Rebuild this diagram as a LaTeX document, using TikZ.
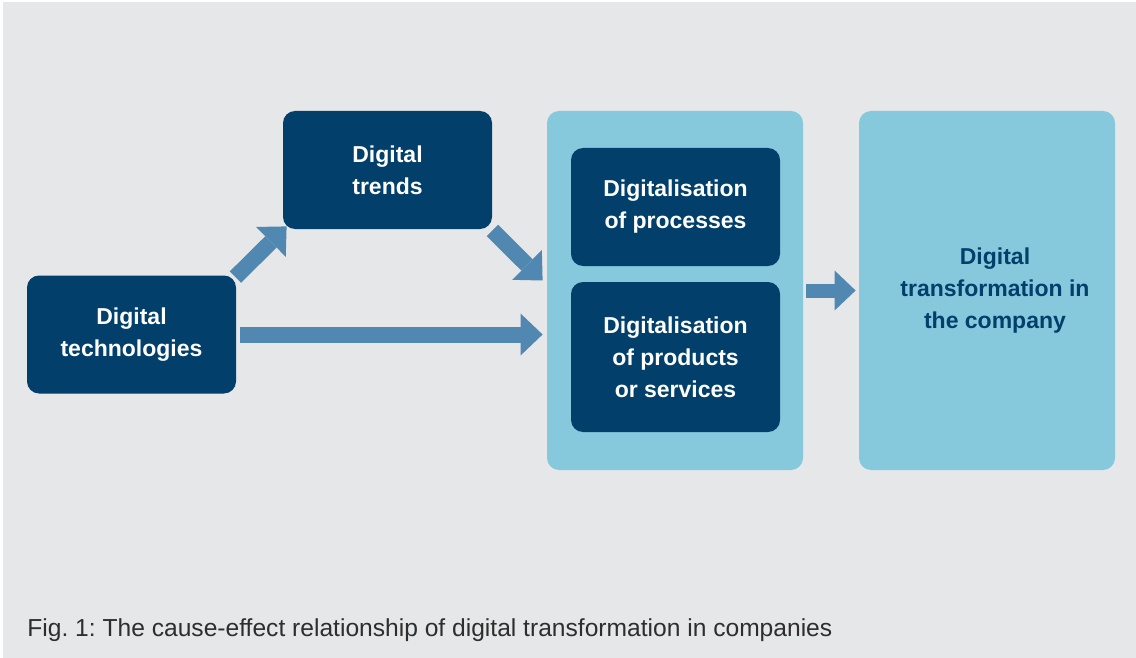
\documentclass[tikz,border=0pt]{standalone}
\usepackage{fontspec}
\setmainfont{Liberation Sans}
\usetikzlibrary{arrows.meta,positioning}

\definecolor{navy}{HTML}{023F6B}
\definecolor{paleblue}{HTML}{86C9DD}
\definecolor{steel}{HTML}{5088B1}
\definecolor{canvas}{HTML}{E6E7E9}
\definecolor{captiongray}{HTML}{2E2E2E}

\begin{document}
\frenchspacing
\begin{tikzpicture}[x=0.5pt,y=-0.5pt,
    darkbox/.style={fill=navy,text=white,rounded corners=6pt,inner sep=0pt,
      minimum width=104.5pt,minimum height=59pt,align=center,
      font=\bfseries\fontsize{11.5}{16}\selectfont},
    lightbox/.style={fill=paleblue,rounded corners=6pt,inner sep=0pt,
      minimum width=128pt,minimum height=179.5pt,align=center,
      font=\bfseries\fontsize{11.5}{16}\selectfont},
    flow/.style={steel,line width=8pt,
      -{Triangle[width=21pt,length=11pt,line width=0pt]}}]
  % Background
  \fill[white] (0,0) rectangle (1136,658);
  \fill[canvas] (3,2) rectangle (1136,658);

  % Boxes
  \node[darkbox] (tech) at (131.5,334.5) {Digital\\technologies};
  \node[darkbox] (trends) at (387.5,170) {Digital\\trends};
  \node[lightbox] (panel) at (675,290.5) {};
  \node[darkbox] (proc) at (675.5,207) {Digitalisation\\of processes};
  \node[darkbox,minimum height=75pt] (prod) at (675.5,357)
    {Digitalisation\\of products\\or services};
  \node[lightbox,text=navy] (result) at (987,290.5)
    {\hspace*{8pt}\begin{tabular}{@{}c@{}}Digital\\transformation in\\the company\end{tabular}};

  % Arrows
  \draw[flow] ([shift={(-1,2)}]tech.north east) -- ([shift={(4,-3)}]trends.south west);
  \draw[flow] ([shift={(0,1)}]trends.south east) -- ([shift={(-4,-10)}]panel.west);
  \draw[flow] ([xshift=2pt]tech.east) -- ([xshift=-2pt]tech.east -| panel.west);
  \draw[flow,line width=7pt,-{Triangle[width=20pt,length=10.5pt,line width=0pt]}]
    ([xshift=1.5pt]panel.east) -- ([xshift=-1.5pt]result.west);

  % Caption
  \node[anchor=base west,inner sep=0pt,text=captiongray,
    font=\fontsize{12.3}{15}\selectfont] (caption) at (27,636)
    {Fig. 1: The cause-effect relationship of digital transformation in companies};
\end{tikzpicture}
\end{document}
